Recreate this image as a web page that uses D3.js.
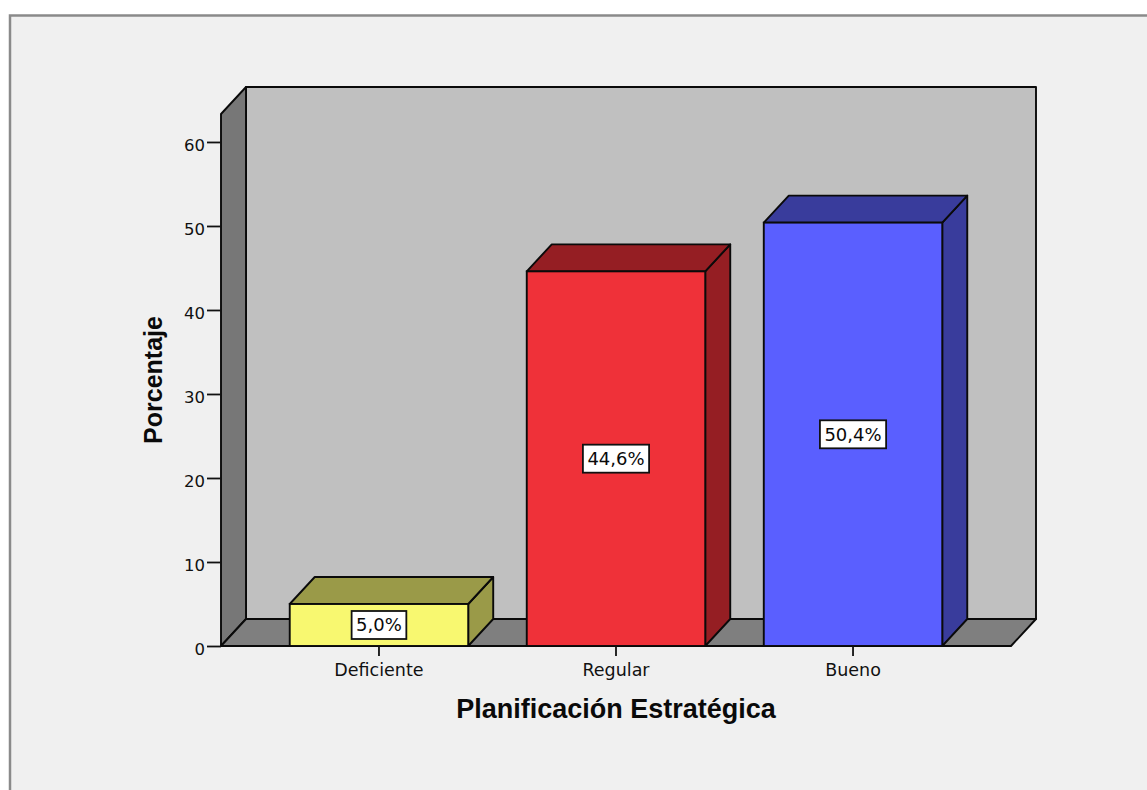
<!DOCTYPE html>
<html>
<head>
<meta charset="utf-8">
<script src="https://cdn.jsdelivr.net/npm/d3@7"></script>
<style>
  html, body { margin: 0; padding: 0; background: #ffffff; }
  svg { display: block; }
</style>
</head>
<body>
<svg id="chart" width="1147" height="790"></svg>
<script>
// Planificación Estratégica: share of responses per level
const categories = ["Deficiente", "Regular", "Bueno"];
const percentages = [5.0, 44.6, 50.4];
const yTicks = [0, 10, 20, 30, 40, 50, 60];
const yMax = 63.33;

// face colours per bar: front, and the darker top/side
const frontFill = ["#f8f870", "#ef3139", "#5a5fff"];
const shadeFill = ["#9a9a48", "#951e23", "#393c9c"];

const svg = d3.select("#chart");
const W = 1147, H = 790;

// plotting frame (front plane) and the 3D depth offset
const plot = { left: 221, right: 1011, top: 114, bottom: 646 };
const depth = { dx: 25, dy: -27 };

// panel background and border
svg.append("rect")
  .attr("x", 10).attr("y", 15.5)
  .attr("width", W + 20).attr("height", H + 20)
  .attr("fill", "#f0f0f0")
  .attr("stroke", "#8a8a8a").attr("stroke-width", 2.5);

const y = d3.scaleLinear().domain([0, yMax]).range([plot.bottom, plot.top]);
const x = d3.scaleBand().domain(categories)
  .range([plot.left, plot.right])
  .paddingInner(0.247).paddingOuter(0.29);

const line = d3.line();
const edge = "#0a0a0a";
const edgeW = 1.9;

// back wall
const bx0 = plot.left + depth.dx, bx1 = plot.right + depth.dx;
const by0 = plot.top + depth.dy, by1 = plot.bottom + depth.dy;
svg.append("path")
  .attr("d", line([[bx0, by0], [bx1, by0], [bx1, by1], [bx0, by1]]) + "Z")
  .attr("fill", "#c0c0c0").attr("stroke", edge).attr("stroke-width", edgeW)
  .attr("stroke-linejoin", "round");

// left wall
svg.append("path")
  .attr("d", line([[plot.left, plot.top], [bx0, by0], [bx0, by1], [plot.left, plot.bottom]]) + "Z")
  .attr("fill", "#777777").attr("stroke", edge).attr("stroke-width", edgeW)
  .attr("stroke-linejoin", "round");

// floor
svg.append("path")
  .attr("d", line([[plot.left, plot.bottom], [bx0, by1], [bx1, by1], [plot.right, plot.bottom]]) + "Z")
  .attr("fill", "#7f7f7f").attr("stroke", edge).attr("stroke-width", edgeW)
  .attr("stroke-linejoin", "round");

// y axis on the front edge of the left wall
const yAxis = svg.append("g")
  .attr("transform", `translate(${plot.left},0)`)
  .call(d3.axisLeft(y).tickValues(yTicks).tickSize(14).tickPadding(2).tickFormat(d3.format("d")));
yAxis.select(".domain").remove();
yAxis.selectAll(".tick line").attr("stroke", "#111").attr("stroke-width", 1.8);
yAxis.selectAll(".tick text")
  .attr("fill", "#111")
  .attr("font-family", "'DejaVu Sans', sans-serif")
  .attr("font-size", "16.5px")
  .attr("dy", "0.5em");

// bars as 3D boxes
const bars = svg.append("g");
categories.forEach((c, i) => {
  const x0 = x(c), x1 = x(c) + x.bandwidth();
  const yt = y(percentages[i]), yb = y(0);
  const g = bars.append("g");
  // right side
  g.append("path")
    .attr("d", line([[x1, yt], [x1 + depth.dx, yt + depth.dy], [x1 + depth.dx, yb + depth.dy], [x1, yb]]) + "Z")
    .attr("fill", shadeFill[i]).attr("stroke", edge).attr("stroke-width", edgeW)
    .attr("stroke-linejoin", "round");
  // top
  g.append("path")
    .attr("d", line([[x0, yt], [x0 + depth.dx, yt + depth.dy], [x1 + depth.dx, yt + depth.dy], [x1, yt]]) + "Z")
    .attr("fill", shadeFill[i]).attr("stroke", edge).attr("stroke-width", edgeW)
    .attr("stroke-linejoin", "round");
  // front
  g.append("rect")
    .attr("x", x0).attr("y", yt)
    .attr("width", x1 - x0).attr("height", yb - yt)
    .attr("fill", frontFill[i]).attr("stroke", edge).attr("stroke-width", edgeW);
});

// category ticks and labels
const xAxis = svg.append("g")
  .attr("transform", `translate(0,${plot.bottom})`)
  .call(d3.axisBottom(x).tickSize(10).tickPadding(8));
xAxis.select(".domain").remove();
xAxis.selectAll(".tick line").attr("stroke", "#111").attr("stroke-width", 1.8);
xAxis.selectAll(".tick text")
  .attr("fill", "#111")
  .attr("font-family", "'DejaVu Sans', sans-serif")
  .attr("font-size", "17.5px");

// value labels in boxes, centred in each bar's front face
const fmt = v => d3.format(".1f")(v).replace(".", ",") + "%";
categories.forEach((c, i) => {
  const cx = x(c) + x.bandwidth() / 2;
  const cy = (y(percentages[i]) + y(0)) / 2;
  const g = svg.append("g");
  const box = g.append("rect").attr("fill", "#ffffff").attr("stroke", "#111").attr("stroke-width", 1.8);
  const t = g.append("text")
    .attr("x", cx).attr("y", cy)
    .attr("text-anchor", "middle")
    .attr("dominant-baseline", "central")
    .attr("font-family", "'DejaVu Sans', sans-serif")
    .attr("font-size", "18px")
    .attr("fill", "#0a0a0a")
    .text(fmt(percentages[i]));
  const w = t.node().getComputedTextLength() + 9;
  const h = 28;
  box.attr("x", cx - w / 2).attr("y", cy - h / 2).attr("width", w).attr("height", h);
});

// axis titles
svg.append("text")
  .attr("x", (plot.left + plot.right) / 2).attr("y", 718)
  .attr("text-anchor", "middle")
  .attr("font-family", "'Liberation Sans', Arial, sans-serif")
  .attr("font-weight", "bold")
  .attr("font-size", "27px")
  .attr("fill", "#0a0a0a")
  .text("Planificación Estratégica");

svg.append("text")
  .attr("transform", `translate(162,${(plot.top + plot.bottom) / 2}) rotate(-90)`)
  .attr("text-anchor", "middle")
  .attr("font-family", "'Liberation Sans', Arial, sans-serif")
  .attr("font-weight", "bold")
  .attr("font-size", "25px")
  .attr("fill", "#0a0a0a")
  .text("Porcentaje");
</script>
</body>
</html>
